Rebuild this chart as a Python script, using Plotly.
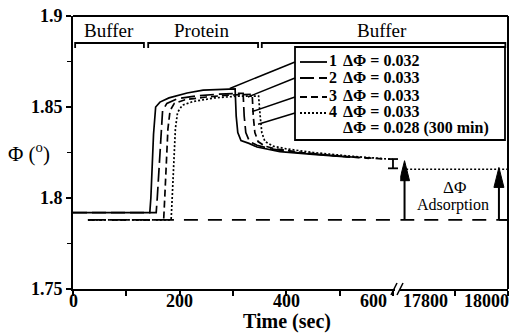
import plotly.graph_objects as go

# ---------------- data (seconds, degrees) ----------------
t1 = [0, 144, 146, 148, 151, 155, 163, 180, 214, 244, 294, 304, 306, 309, 315, 330, 345, 388, 450, 520]
y1 = [1.792, 1.792, 1.800, 1.815, 1.835, 1.850, 1.8527, 1.855, 1.8577, 1.8593, 1.8599, 1.8599,
      1.845, 1.836, 1.8315, 1.8300, 1.828, 1.8255, 1.824, 1.8225]

t2 = [0, 156, 158, 161, 164, 168, 176, 195, 230, 270, 310, 319, 321, 324, 331, 345, 370, 420, 480, 555]
y2 = [1.792, 1.792, 1.800, 1.815, 1.835, 1.848, 1.852, 1.8545, 1.856, 1.857, 1.8575, 1.8575,
      1.845, 1.836, 1.831, 1.829, 1.827, 1.825, 1.8235, 1.8218]

t3 = [28, 170, 172, 175, 178, 182, 190, 210, 250, 290, 336, 338, 341, 347, 360, 380, 430, 500, 580]
y3 = [1.788, 1.788, 1.800, 1.820, 1.838, 1.848, 1.852, 1.854, 1.8555, 1.8565, 1.857,
      1.845, 1.836, 1.831, 1.8285, 1.827, 1.825, 1.823, 1.8215]

t4 = [28, 184, 186, 189, 192, 196, 205, 225, 265, 310, 348, 351, 354, 360, 375, 400, 450, 520, 600]
y4 = [1.788, 1.788, 1.800, 1.820, 1.838, 1.847, 1.851, 1.853, 1.855, 1.856, 1.856,
      1.845, 1.836, 1.831, 1.8285, 1.827, 1.825, 1.823, 1.8212]

# curve 4 after 300 min (right part of the broken axis)
t4_late = [17809, 18000]
y4_late = [1.8158, 1.8158]

# reference baseline
base_val = 1.788
base_t_left = [28, 603]
base_t_right = [17798, 18000]

legend_nums = ["1", "2", "3", "4"]
legend_texts = ["\u0394\u03a6 = 0.032", "\u0394\u03a6 = 0.033", "\u0394\u03a6 = 0.033",
                "\u0394\u03a6 = 0.033", "\u0394\u03a6 = 0.028 (300 min)"]
phase_labels = ["Buffer", "Protein", "Buffer"]
phase_spans = [(4, 133), (141, 347), (354, 17995)]

x_ticks_left = [0, 100, 200, 300, 400, 500, 600]
x_labels_left = [0, 200, 400]
x_label_600 = 600
x_labels_right = [17800, 18000]
x_ticks_right = [17900, 18000]
y_ticks = [1.75, 1.8, 1.85, 1.9]

# delta-phi arrows (time on right axis, tip value)
arrow_t = [17806, 17983]
arrow_tip = [1.8205, 1.8168]

# ---------------- geometry ----------------
W, H = 514, 333
L, R, T, B = 73, 508, 16, 289
PW, PH = R - L, B - T
PXS = 0.5333  # pixels per second
X1R = [0, 603]
X2R = [17798, 18000]
YR = [1.75, 1.9]
d1 = (X1R[1] - X1R[0]) * PXS / PW
d2 = 1 - (X2R[1] - X2R[0]) * PXS / PW


def px_x(p):
    return (p - L) / PW


def px_y(p):
    return (B - p) / PH


def paper_t(t):
    if t <= X1R[1]:
        return d1 * (t - X1R[0]) / (X1R[1] - X1R[0])
    return d2 + (1 - d2) * (t - X2R[0]) / (X2R[1] - X2R[0])


def paper_v(v):
    return (v - YR[0]) / (YR[1] - YR[0])


FONT = "Liberation Serif, Times New Roman, serif"
BLK = "black"
LW = 1.7
dash2 = "14px,5px"
dash3 = "7px,4px"
dash4 = "2px,2px"
dash_base = "14px,10px"

fig = go.Figure()

fig.add_trace(go.Scatter(x=base_t_left, y=[base_val] * 2, mode="lines",
                         line=dict(color=BLK, width=1.8, dash=dash_base), xaxis="x", yaxis="y"))
fig.add_trace(go.Scatter(x=base_t_right, y=[base_val] * 2, mode="lines",
                         line=dict(color=BLK, width=1.8, dash=dash_base), xaxis="x2", yaxis="y"))
fig.add_trace(go.Scatter(x=t1, y=y1, mode="lines", line=dict(color=BLK, width=LW), xaxis="x", yaxis="y"))
fig.add_trace(go.Scatter(x=t2, y=y2, mode="lines", line=dict(color=BLK, width=LW, dash=dash2), xaxis="x", yaxis="y"))
fig.add_trace(go.Scatter(x=t3, y=y3, mode="lines", line=dict(color=BLK, width=LW, dash=dash3), xaxis="x", yaxis="y"))
fig.add_trace(go.Scatter(x=t4, y=y4, mode="lines", line=dict(color=BLK, width=LW, dash=dash4), xaxis="x", yaxis="y"))
fig.add_trace(go.Scatter(x=t4_late, y=y4_late, mode="lines", line=dict(color=BLK, width=LW, dash=dash4),
                         xaxis="x2", yaxis="y"))

shapes = []
# frame top and right
shapes.append(dict(type="line", xref="paper", yref="paper", x0=0, x1=1, y0=1, y1=1, line=dict(color=BLK, width=2)))
shapes.append(dict(type="line", xref="paper", yref="paper", x0=1, x1=1, y0=0, y1=1, line=dict(color=BLK, width=2)))

# phase brackets
yb = px_y(43)
yt = px_y(48)
for a, b in phase_spans:
    xa, xb = paper_t(a), paper_t(b)
    shapes.append(dict(type="path", xref="paper", yref="paper",
                       path=f"M{xa},{yt} L{xa},{yb} L{xb},{yb} L{xb},{yt}",
                       line=dict(color=BLK, width=1.8)))

# legend box
shapes.append(dict(type="rect", xref="paper", yref="paper", x0=px_x(295), x1=px_x(505),
                   y0=px_y(140), y1=px_y(47), line=dict(color=BLK, width=1.8), fillcolor="white"))
rows = [61, 77, 96, 112, 128]
dashes = ["solid", dash2, dash3, dash4]
for i in range(4):
    shapes.append(dict(type="line", xref="paper", yref="paper", x0=px_x(300), x1=px_x(327),
                       y0=px_y(rows[i] + 1), y1=px_y(rows[i] + 1), line=dict(color=BLK, width=1.8, dash=dashes[i])))

# leader lines from legend to curves
leader_pts = [(294, 1.8602), (328, 1.8555), (336, 1.8475), (347, 1.8405)]
leader_start = [62, 78, 97, 113]
for (tl, vl), ys in zip(leader_pts, leader_start):
    shapes.append(dict(type="line", xref="paper", yref="paper", x0=px_x(295), y0=px_y(ys),
                       x1=paper_t(tl), y1=paper_v(vl), line=dict(color=BLK, width=1.5)))

# axis break marks
for off in (0, 6):
    shapes.append(dict(type="line", xref="paper", yref="paper",
                       x0=px_x(391 + off), y0=px_y(295), x1=px_x(397 + off), y1=px_y(283),
                       line=dict(color=BLK, width=1.6)))

# end-of-run bar at 600 s
bar_t, bar_lo, bar_hi = 600, 1.8163, 1.8214
bx = paper_t(bar_t)
shapes.append(dict(type="line", xref="paper", yref="paper", x0=bx, x1=bx,
                   y0=paper_v(bar_lo), y1=paper_v(bar_hi), line=dict(color=BLK, width=1.8)))
for v in (bar_lo, bar_hi):
    shapes.append(dict(type="line", xref="paper", yref="paper", x0=bx - 5 / PW, x1=bx + 5 / PW,
                       y0=paper_v(v), y1=paper_v(v), line=dict(color=BLK, width=1.8)))

# delta-phi arrows
hw = 5 / PXS
hh = 20 / (PH / (YR[1] - YR[0]))
for ta, tip in zip(arrow_t, arrow_tip):
    shapes.append(dict(type="line", xref="x2", yref="y", x0=ta, x1=ta, y0=base_val, y1=tip - hh * 0.8,
                       line=dict(color=BLK, width=2)))
    shapes.append(dict(type="path", xref="x2", yref="y",
                       path=f"M{ta},{tip} L{ta - hw},{tip - hh} L{ta + hw},{tip - hh} Z",
                       fillcolor=BLK, line=dict(color=BLK, width=1)))
shapes.append(dict(type="line", xref="x2", yref="y", x0=arrow_t[1], x1=X2R[1], y0=base_val, y1=base_val,
                   line=dict(color=BLK, width=1.8)))

annotations = []
bold = dict(family=FONT, size=18, color=BLK, weight="bold")
# x tick labels (placed close under the axis, shifted around the break)
lab_y = px_y(301)
for v in x_labels_left:
    annotations.append(dict(text=str(v), xref="x", yref="paper", x=v, y=lab_y, xanchor="center",
                            yanchor="middle", showarrow=False, font=bold))
annotations.append(dict(text=str(x_label_600), xref="x", yref="paper", x=x_label_600, y=lab_y,
                        xanchor="right", yanchor="middle", xshift=-4, showarrow=False, font=bold))
annotations.append(dict(text=str(x_labels_right[0]), xref="x2", yref="paper", x=x_labels_right[0], y=lab_y,
                        xanchor="left", yanchor="middle", showarrow=False, font=bold))
annotations.append(dict(text=str(x_labels_right[1]), xref="x2", yref="paper", x=x_labels_right[1], y=lab_y,
                        xanchor="right", yanchor="middle", xshift=3, showarrow=False, font=bold))
# axis titles
annotations.append(dict(text="Time (sec)", xref="paper", yref="paper", x=px_x(287), y=px_y(321),
                        xanchor="center", yanchor="middle", showarrow=False,
                        font=dict(family=FONT, size=20, color=BLK, weight="bold")))
annotations.append(dict(text="\u03a6 (<sup>o</sup>)", xref="paper", yref="paper", x=px_x(29), y=px_y(152),
                        xanchor="center", yanchor="middle", showarrow=False,
                        font=dict(family=FONT, size=21, color=BLK)))
# phase labels
for lab, cx in zip(phase_labels, [109, 201, 382]):
    annotations.append(dict(text=lab, xref="paper", yref="paper", x=px_x(cx), y=px_y(30),
                            xanchor="center", yanchor="middle", showarrow=False,
                            font=dict(family=FONT, size=19, color=BLK)))
# legend texts
lf = dict(family=FONT, size=16, color=BLK, weight="bold")
for i, num in enumerate(legend_nums):
    annotations.append(dict(text=num, xref="paper", yref="paper", x=px_x(327), y=px_y(rows[i]),
                            xanchor="left", yanchor="middle", showarrow=False, font=lf))
for i, txt in enumerate(legend_texts):
    annotations.append(dict(text=txt, xref="paper", yref="paper", x=px_x(341), y=px_y(rows[i]),
                            xanchor="left", yanchor="middle", showarrow=False, font=lf))
# delta-phi adsorption label
annotations.append(dict(text="\u0394\u03a6", xref="paper", yref="paper", x=px_x(454), y=px_y(187),
                        xanchor="center", yanchor="middle", showarrow=False,
                        font=dict(family=FONT, size=17, color=BLK)))
annotations.append(dict(text="Adsorption", xref="paper", yref="paper", x=px_x(453), y=px_y(205),
                        xanchor="center", yanchor="middle", showarrow=False,
                        font=dict(family=FONT, size=16, color=BLK)))

axis_common = dict(showgrid=False, zeroline=False, showline=True, linecolor=BLK, linewidth=2,
                   ticks="outside", tickcolor=BLK, tickwidth=1.6, ticklen=5,
                   tickfont=dict(family=FONT, size=18, color=BLK, weight="bold"))

fig.update_layout(
    width=W, height=H,
    margin=dict(l=L, r=W - R, t=T, b=H - B, pad=0),
    paper_bgcolor="white", plot_bgcolor="white",
    showlegend=False,
    shapes=shapes,
    annotations=annotations,
    xaxis=dict(domain=[0, d1], range=X1R, tickmode="array", tickvals=x_ticks_left,
               showticklabels=False, anchor="y", **axis_common),
    xaxis2=dict(domain=[d2, 1], range=X2R, tickmode="array", tickvals=x_ticks_right,
                showticklabels=False, anchor="y", **axis_common),
    yaxis=dict(domain=[0, 1], range=YR, tickmode="array", tickvals=y_ticks,
               ticktext=["1.75", "1.8", "1.85", "1.9"], anchor="x",
               minor=dict(tickvals=[1.775, 1.825, 1.875], ticks="outside", ticklen=4, tickwidth=1.4, tickcolor=BLK),
               **axis_common),
)

fig.write_html("out.html")
